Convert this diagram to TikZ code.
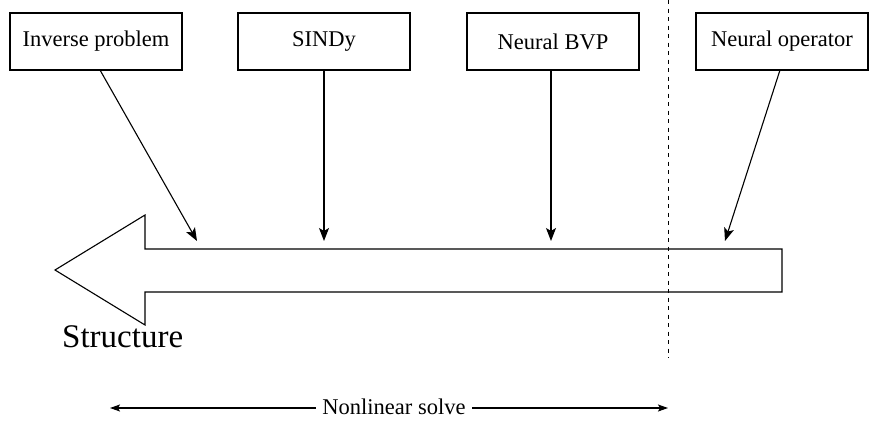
\documentclass[tikz,border=0pt]{standalone}
\usepackage{fontspec}
\setmainfont{Liberation Serif}
\usetikzlibrary{arrows.meta}
\begin{document}
\begin{tikzpicture}[x=1pt,y=-1pt,
  method/.style={draw,line width=1.1pt,minimum width=172pt,minimum height=57pt,
    inner sep=0pt,font=\fontsize{22.5}{26}\selectfont},
  feed/.style={line width=1.1pt,-{Stealth[length=13pt,width=10pt,inset=3pt]}},
  spantip/.style={line width=1.1pt,-{Stealth[length=10pt,width=7pt,inset=2pt]}}]
\useasboundingbox (0,0) rectangle (873,423);
% method boxes
\node[method] (inv) at (96,41.5) {\raisebox{-1.5pt}{Inverse problem}};
\node[method] (sindy) at (324,41.5) {\raisebox{-1.5pt}{SINDy}};
\node[method] (bvp) at (553,41.5) {\raisebox{-1.5pt}{Neural BVP}};
\node[method] (op) at (782,41.5) {\raisebox{-1.5pt}{Neural operator}};
% large block arrow pointing left
\draw[line width=1.1pt,line join=miter]
  (782,249) -- (145,249) -- (145,215) -- (55,270) -- (145,325) -- (145,292) -- (782,292) -- cycle;
% targets on the block arrow
\coordinate (tinv) at (197,241);
\coordinate (tsindy) at (324,241);
\coordinate (tbvp) at (551,241);
\coordinate (top) at (725,241);
\draw[feed] (100,70) -- (tinv);
\draw[feed] (sindy.south -| tsindy) -- (tsindy);
\draw[feed] (bvp.south -| tbvp) -- (tbvp);
\draw[feed] (780,70) -- (top);
% separating dashed line
\coordinate (dtop) at (668,0);
\coordinate (dbot) at (668,358);
\draw[line width=1pt,dash pattern=on 4pt off 4.5pt] (dtop) -- (dbot);
% labels
\node[font=\fontsize{33}{38}\selectfont,anchor=west,inner sep=0pt] (struct) at (62,337) {Structure};
\node[font=\fontsize{22.5}{26}\selectfont,inner xsep=6.5pt] (nls) at (394,407) {Nonlinear solve};
\coordinate (lend) at (110,408);
\coordinate (rend) at (668,408);
\draw[spantip] (nls.west |- lend) -- (lend);
\draw[spantip] (nls.east |- rend) -- (rend);
\end{tikzpicture}
\end{document}
